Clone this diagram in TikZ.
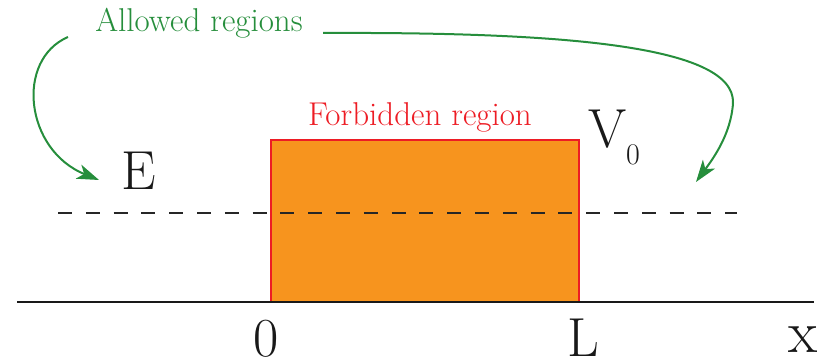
\documentclass[tikz,border=0pt]{standalone}
\usetikzlibrary{arrows.meta}
\definecolor{agreen}{RGB}{38,142,60}
\definecolor{fred}{RGB}{237,28,36}
\definecolor{forange}{RGB}{247,148,30}
\begin{document}
\begin{tikzpicture}[x=1pt,y=-1pt,
  greenarrow/.style={draw=agreen,line width=2pt,-{Stealth[length=22pt,width=15pt,inset=6pt]}},
  biglabel/.style={inner sep=0pt,anchor=base,font=\fontsize{55}{60}\selectfont,text=black!90},
  smalllabel/.style={inner sep=0pt,anchor=base,font=\fontsize{33}{38}\selectfont}]
\useasboundingbox (0,0) rectangle (818,363);
% barrier
\node[draw=fred,line width=2pt,fill=forange,inner sep=0pt,minimum width=308pt,minimum height=162pt] (barrier) at (425,221) {};
% energy level
\coordinate (eL) at (58,213);
\coordinate (eR) at (737,213);
\draw[line width=2pt,dash pattern=on 14pt off 13.8pt,black!85] (eL) -- (eR);
% axis
\coordinate (aL) at (17,302);
\coordinate (aR) at (814,302);
\draw[line width=2.5pt,black!90] (aL) -- (aR);
% labels
\node[smalllabel,text=agreen] (allowed) at (199,32) {Allowed regions};
\node[smalllabel,text=fred] (forbidden) at (420,126) {Forbidden region};
\node[biglabel] (E) at (139,190) {E};
\node[biglabel] (V) at (608,148) {V};
\node[inner sep=0pt,anchor=base,font=\fontsize{30}{34}\selectfont,text=black!90] (Vsub) at (633,165) {0};
\node[biglabel] (zero) at (266,356) {0};
\node[biglabel] (Lab) at (583,356) {L};
\node[biglabel,font=\fontsize{60}{64}\selectfont] (xlab) at (803,352) {x};
% arrows
\coordinate (s1) at (68,37);
\coordinate (t1) at (99,180);
\coordinate (s2) at (323,33);
\coordinate (m2) at (733,103);
\coordinate (t2) at (696,182);
\draw[greenarrow] (s1) .. controls (15,60) and (25,150) .. (t1);
\draw[greenarrow] (s2) .. controls (560,32) and (735,45) .. (m2) .. controls (731,135) and (712,160) .. (t2);
\end{tikzpicture}
\end{document}
